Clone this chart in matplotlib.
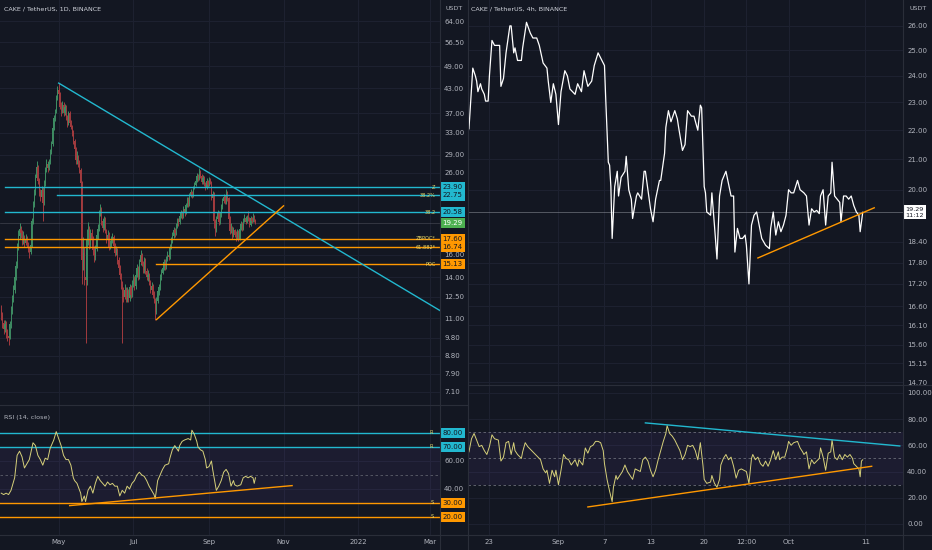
import matplotlib
matplotlib.use('Agg')
import matplotlib.pyplot as plt
from matplotlib.ticker import NullLocator
import numpy as np
import pandas as pd

plt.rcParams['font.family'] = ['DejaVu Sans']

BG = '#131722'
GRID = '#1d2130'
TXT = '#b2b5be'
CYAN = '#22b8cf'
ORANGE = '#ff9800'
RSI_COL = '#d6d07a'
GREEN = '#3e8c62'
RED = '#a23b3e'

# --- Left: CAKE/USDT daily candles (from 2021-03-15) ---
first_open = 11.6
closes = [11.2, 10.7, 10.3, 10.6, 10.1, 9.9, 9.8, 10.6, 11.5, 12.3,
          13.0, 14.0, 15.0, 16.8, 17.9, 18.6, 18.2, 17.4, 17.8, 17.2,
          17.6, 17.0, 16.6, 16.3, 17.0, 19.5, 21.5, 23.0, 25.2, 27.0,
          24.8, 23.2, 22.6, 23.5, 21.8, 24.5, 26.5, 27.5, 26.8, 27.8,
          29.5, 30.8, 34.0, 36.0, 37.5, 40.5, 42.5, 41.5, 38.5, 37.5,
          39.0, 37.0, 38.5, 36.0, 35.0, 37.0, 35.0, 34.2, 33.0, 31.5,
          30.0, 28.0, 28.5, 27.5, 26.5, 24.5, 15.5, 16.2, 14.0, 13.8,
          17.5, 18.8, 17.0, 18.2, 17.6, 16.5, 15.8, 16.6, 18.0, 18.7,
          20.4, 21.0, 19.5, 18.8, 19.8, 18.4, 17.6, 18.0, 16.8, 17.0,
          17.5, 17.8, 16.9, 16.2, 16.5, 15.5, 14.8, 14.2, 13.4, 12.8,
          12.5, 13.0, 12.3, 12.9, 12.4, 13.2, 12.6, 13.5, 13.9, 13.3,
          14.2, 14.8, 14.0, 15.3, 16.0, 15.2, 14.6, 15.5, 14.5, 14.0,
          14.2, 13.6, 13.0, 13.3, 12.6, 12.2, 11.4, 12.2, 12.9, 13.2,
          14.0, 14.4, 14.8, 15.3, 14.9, 15.6, 16.0, 15.8, 16.8, 17.4,
          17.9, 18.5, 18.2, 19.0, 19.6, 19.4, 20.2, 20.5, 20.1, 21.0,
          20.6, 21.5, 22.2, 21.6, 22.8, 23.2, 22.7, 23.8, 24.2, 24.8,
          25.5, 25.2, 26.2, 25.6, 24.6, 25.3, 24.4, 23.8, 24.8, 24.2,
          25.0, 24.6, 22.4, 23.0, 19.5, 18.4, 19.8, 20.5, 19.4, 20.2,
          21.2, 22.0, 22.6, 21.8, 23.0, 22.4, 19.8, 18.4, 18.8, 17.9,
          18.5, 18.0, 17.8, 18.3, 17.6, 18.7, 19.2, 18.6, 19.6, 19.9,
          19.4, 20.0, 19.8, 19.1, 19.9, 19.5, 20.2, 19.6, 19.29]
highs = [11.9, 11.4, 10.9, 10.9, 10.8, 10.3, 10.2, 10.8, 11.8, 12.6,
         13.4, 14.3, 15.4, 17.2, 18.5, 19.3, 19.0, 18.5, 18.4, 18.0,
         18.1, 17.9, 17.3, 16.9, 17.4, 19.9, 22.0, 23.6, 25.8, 27.9,
         27.3, 25.2, 23.6, 24.0, 23.9, 25.0, 26.9, 28.2, 27.9, 28.3,
         30.0, 31.5, 34.5, 36.6, 38.0, 41.2, 43.5, 44.3, 42.0, 39.5,
         39.8, 39.5, 39.2, 38.9, 36.6, 37.6, 37.5, 35.6, 34.6, 33.5,
         31.8, 30.4, 29.6, 29.0, 28.0, 26.8, 24.8, 17.8, 16.8, 14.9,
         18.6, 19.4, 19.0, 18.6, 18.6, 17.9, 16.9, 17.0, 18.4, 19.2,
         20.9, 21.6, 21.2, 19.9, 20.1, 20.0, 18.6, 18.5, 18.3, 17.5,
         17.9, 18.2, 18.0, 17.2, 16.9, 16.7, 15.8, 15.1, 14.4, 13.7,
         13.2, 13.5, 13.2, 13.2, 13.1, 13.5, 13.4, 13.8, 14.3, 14.1,
         14.5, 15.2, 15.0, 15.6, 16.5, 16.2, 15.4, 15.8, 15.7, 14.8,
         14.6, 14.4, 13.8, 13.6, 13.5, 12.9, 12.4, 12.5, 13.1, 13.5,
         14.3, 14.7, 15.1, 15.6, 15.6, 15.9, 16.4, 16.3, 17.1, 17.8,
         18.3, 18.9, 18.8, 19.3, 19.9, 19.9, 20.5, 20.9, 20.8, 21.4,
         21.2, 21.8, 22.6, 22.5, 23.1, 23.6, 23.4, 24.1, 24.6, 25.2,
         26.0, 25.8, 26.8, 26.5, 25.9, 25.7, 25.5, 24.6, 25.2, 25.0,
         25.4, 25.3, 24.8, 23.4, 23.2, 19.8, 20.2, 20.9, 20.7, 20.6,
         21.6, 22.4, 23.0, 22.8, 23.6, 23.3, 22.6, 20.1, 19.3, 19.0,
         18.9, 18.7, 18.4, 18.6, 18.5, 18.9, 19.5, 19.4, 19.9, 20.4,
         20.1, 20.3, 20.7, 20.0, 20.1, 20.0, 20.5, 20.3, 19.8]
lows = [10.9, 10.4, 10.0, 10.1, 9.8, 9.6, 9.4, 9.7, 10.4, 11.3,
        12.1, 12.8, 13.8, 14.8, 16.5, 17.6, 17.7, 17.0, 17.1, 16.8,
        17.0, 16.8, 16.3, 15.7, 16.1, 16.8, 19.2, 21.2, 22.8, 24.9,
        24.4, 22.7, 22.0, 22.3, 19.5, 21.5, 24.1, 26.1, 26.2, 26.5,
        27.4, 29.1, 30.5, 33.6, 35.4, 37.1, 40.0, 40.8, 37.9, 36.5,
        37.0, 36.5, 36.6, 35.6, 34.2, 34.6, 34.5, 33.7, 32.4, 30.9,
        29.4, 27.4, 27.4, 27.0, 26.0, 24.0, 13.5, 14.6, 13.4, 9.5,
        13.4, 17.0, 16.6, 16.7, 17.1, 16.0, 15.3, 15.5, 16.4, 17.6,
        18.4, 20.1, 19.1, 18.3, 18.5, 18.2, 17.2, 17.3, 16.5, 16.6,
        16.8, 17.2, 16.6, 15.9, 16.0, 15.2, 14.5, 13.9, 13.1, 9.5,
        12.1, 12.3, 12.1, 12.1, 12.1, 12.2, 12.4, 12.5, 13.2, 13.0,
        13.1, 14.0, 13.8, 13.9, 15.1, 15.0, 14.4, 14.4, 14.3, 13.8,
        13.7, 13.4, 12.8, 12.8, 12.4, 12.0, 10.9, 11.3, 12.0, 12.6,
        13.0, 13.8, 14.3, 14.6, 14.6, 14.7, 15.4, 15.5, 15.6, 16.6,
        17.2, 17.7, 17.8, 18.0, 18.8, 19.0, 19.2, 19.9, 19.8, 19.9,
        20.2, 20.4, 21.3, 21.3, 21.4, 22.6, 22.4, 22.5, 23.6, 24.0,
        24.6, 24.8, 25.0, 25.3, 24.3, 24.3, 24.1, 23.5, 23.6, 23.9,
        24.0, 24.3, 22.2, 22.1, 18.8, 17.9, 18.3, 19.6, 19.1, 19.2,
        20.0, 21.0, 21.8, 21.6, 21.6, 22.0, 19.5, 18.1, 18.2, 17.6,
        17.8, 17.8, 17.4, 17.6, 17.4, 17.5, 18.5, 18.4, 18.5, 19.4,
        19.2, 19.3, 19.6, 18.9, 19.0, 19.3, 19.4, 19.4, 19.2]

# daily RSI(14) read at these day offsets
rsi_d_day = [0, 2, 4, 6, 8, 11, 13, 15, 17, 19,
             21, 23, 26, 28, 30, 32, 34, 36, 38, 40,
             43, 45, 47, 49, 51, 53, 55, 57, 59, 60,
             62, 65, 66, 68, 69, 71, 73, 75, 77, 79,
             81, 83, 85, 87, 89, 91, 93, 95, 97, 99,
             101, 103, 105, 107, 109, 111, 113, 115, 117, 119,
             121, 123, 125, 126, 128, 130, 132, 134, 137, 138,
             140, 142, 145, 146, 148, 150, 153, 155, 156, 158,
             160, 161, 163, 165, 167, 168, 170, 172, 173, 175,
             176, 178, 180, 182, 184, 186, 188, 190, 191, 193,
             196, 198, 200, 202, 204, 206, 207, 208]
rsi_d = [37, 36, 37, 36, 39, 48, 64, 67, 63, 55,
         58, 61, 73, 71, 64, 61, 57, 62, 61, 69,
         75, 81, 76, 71, 64, 61, 61, 57, 48, 46,
         44, 37, 31, 35, 31, 39, 42, 37, 44, 49,
         46, 44, 42, 45, 43, 44, 42, 42, 35, 39,
         37, 42, 40, 44, 46, 50, 52, 50, 49, 46,
         42, 39, 36, 33, 46, 50, 54, 57, 58, 62,
         68, 71, 67, 71, 74, 75, 76, 75, 82, 79,
         74, 70, 68, 67, 61, 55, 56, 60, 54, 44,
         39, 42, 46, 52, 54, 51, 42, 46, 43, 42,
         43, 48, 49, 48, 49, 48, 44, 48]

# drawn levels on daily chart: (price, start date, label, colour)
levels = [(23.90, '2021-03-18', 'Z', CYAN),
          (22.75, '2021-04-30', '38.2%', CYAN),
          (20.58, '2021-03-18', '38.2', CYAN),
          (17.60, '2021-03-18', 'ZBPOC*', ORANGE),
          (16.74, '2021-03-18', '61.882*', ORANGE),
          (15.13, '2021-07-20', 'POC', ORANGE)]
down_line = [('2021-05-01', 44.3), ('2022-03-09', 11.5)]
up_line = [('2021-07-20', 10.9), ('2021-11-01', 21.4)]
rsi_d_line = [('2021-05-10', 28.1), ('2021-11-08', 42.4)]
last_price = 19.29

# --- Right: CAKE/USDT 4h close (bar index from 2021-08-20 08:00) ---
bars_4h = [0, 2, 3, 5, 6, 7, 9, 10, 12, 13,
           15, 16, 18, 20, 22, 24, 25, 27, 29, 32,
           33, 35, 36, 38, 41, 42, 44, 45, 48, 50,
           53, 55, 58, 61, 62, 64, 66, 68, 70, 72,
           75, 77, 79, 83, 85, 88, 90, 93, 96, 98,
           101, 103, 106, 107, 109, 110, 111, 112, 114, 116,
           117, 119, 122, 123, 125, 127, 128, 131, 132, 135,
           137, 138, 140, 142, 144, 146, 149, 150, 153, 154,
           156, 158, 161, 163, 164, 167, 169, 171, 174, 176,
           179, 181, 182, 184, 185, 186, 189, 190, 192, 194,
           196, 198, 201, 203, 205, 207, 208, 210, 212, 214,
           216, 217, 219, 221, 223, 225, 227, 229, 232, 235,
           236, 238, 240, 242, 244, 246, 248, 250, 252, 254,
           257, 259, 262, 264, 266, 268, 270, 272, 274, 275,
           277, 279, 281, 283, 284, 286, 288, 290, 291, 293,
           295, 297, 299, 301, 303, 305, 306, 308]
close_4h = [22.05, 23.5, 24.3, 24.0, 23.8, 23.4, 23.7, 23.5, 23.3, 23.05,
            23.05, 24.0, 25.4, 25.2, 25.2, 25.2, 23.6, 23.9, 24.9, 26.0,
            26.0, 24.9, 25.1, 24.6, 24.6, 25.1, 25.8, 26.15, 25.7, 25.5,
            25.5, 25.2, 24.5, 24.3, 23.8, 23.0, 23.7, 23.3, 22.2, 23.4,
            24.2, 24.0, 23.5, 23.3, 23.7, 23.4, 24.2, 23.6, 23.8, 24.4,
            24.9, 24.7, 24.4, 23.1, 20.9, 20.8, 20.1, 18.5, 20.1, 20.6,
            19.8, 20.4, 20.6, 21.1, 20.0, 19.7, 19.1, 19.8, 19.9, 19.7,
            20.6, 20.6, 20.0, 19.4, 19.0, 19.7, 20.3, 20.3, 21.2, 22.1,
            22.7, 22.3, 22.7, 22.4, 22.1, 21.3, 21.5, 22.7, 22.5, 22.5,
            22.0, 22.9, 22.8, 20.1, 19.9, 19.3, 19.2, 19.9, 18.9, 17.9,
            19.8, 20.3, 20.6, 20.2, 19.8, 19.8, 18.1, 18.8, 18.5, 18.5,
            18.6, 18.3, 17.2, 18.9, 19.2, 19.3, 18.9, 18.5, 18.3, 18.2,
            18.8, 19.3, 18.6, 19.0, 18.7, 18.9, 19.2, 20.0, 19.9, 19.9,
            20.3, 20.0, 19.9, 19.8, 18.9, 19.4, 19.3, 19.35, 19.25, 19.8,
            20.0, 18.9, 19.8, 19.9, 20.9, 19.8, 19.7, 19.6, 19.0, 19.8,
            19.8, 19.7, 19.8, 19.5, 19.3, 19.2, 18.7, 19.29]

rsi_4h_bar = [0, 2, 4, 6, 8, 10, 12, 14, 16, 18,
              20, 23, 25, 27, 29, 31, 33, 35, 36, 38,
              41, 42, 44, 46, 49, 51, 54, 56, 58, 60,
              61, 63, 65, 67, 68, 70, 72, 74, 76, 78,
              80, 83, 85, 86, 89, 91, 93, 95, 97, 99,
              101, 103, 105, 106, 108, 110, 112, 113, 115, 116,
              118, 120, 122, 124, 126, 128, 130, 132, 134, 136,
              138, 140, 142, 144, 146, 148, 150, 152, 154, 155,
              157, 159, 161, 163, 165, 167, 169, 171, 173, 175,
              177, 179, 181, 183, 184, 186, 189, 190, 192, 194,
              196, 197, 199, 201, 203, 205, 207, 209, 211, 213,
              215, 217, 219, 221, 222, 224, 226, 228, 230, 232,
              234, 236, 238, 240, 242, 243, 245, 247, 249, 250,
              252, 254, 257, 259, 261, 262, 264, 266, 268, 270,
              272, 274, 275, 277, 279, 281, 283, 284, 286, 288,
              290, 292, 294, 296, 298, 300, 301, 303, 305, 306,
              307, 308]
rsi_4h = [55, 65, 69, 64, 59, 60, 56, 53, 59, 68,
          65, 64, 48, 51, 62, 63, 53, 62, 56, 53,
          50, 55, 62, 59, 56, 54, 51, 49, 42, 39,
          41, 31, 41, 36, 41, 30, 41, 53, 50, 49,
          45, 49, 44, 49, 45, 58, 54, 59, 60, 63,
          63, 62, 56, 46, 34, 25, 17, 28, 37, 34,
          37, 40, 45, 40, 37, 34, 42, 41, 40, 49,
          51, 48, 41, 36, 41, 49, 56, 63, 69, 75,
          69, 67, 64, 60, 56, 49, 53, 60, 59, 60,
          56, 49, 62, 45, 34, 31, 32, 37, 31, 28,
          34, 45, 50, 53, 49, 51, 44, 35, 41, 42,
          41, 40, 31, 50, 53, 49, 51, 46, 44, 48,
          44, 49, 56, 49, 55, 49, 51, 51, 58, 63,
          60, 62, 63, 58, 55, 53, 55, 42, 49, 46,
          48, 50, 58, 51, 41, 54, 55, 64, 51, 49,
          53, 49, 53, 51, 53, 50, 46, 44, 42, 36,
          48, 49]
up_line_4h = [(226, 17.93), (317, 19.43)]
rsi_up_4h = [(93, 13.0), (315, 44.0)]
rsi_down_4h = [(138, 77.1), (337, 59.5)]

# ---------------- figure ----------------
W, H = 932, 550
fig = plt.figure(figsize=(W / 100, H / 100), dpi=100, facecolor=BG)


def box(x0, y0, x1, y1):
    return [x0 / W, 1 - y1 / H, (x1 - x0) / W, (y1 - y0) / H]


axL = fig.add_axes(box(0, 0, 440, 405))
axLr = fig.add_axes(box(0, 405, 440, 535), sharex=axL)
axR = fig.add_axes(box(468, 0, 903, 385))
axRr = fig.add_axes(box(468, 385, 903, 535), sharex=axR)

for ax in (axL, axLr, axR, axRr):
    ax.set_facecolor(BG)
    for s in ax.spines.values():
        s.set_visible(False)
    ax.yaxis.tick_right()
    ax.tick_params(axis='both', length=0, colors=TXT, labelsize=5, pad=3)
    ax.grid(True, color=GRID, lw=0.8)
    ax.set_axisbelow(True)


def tag(ax, y, txt, fc, tc=BG, x=1.006):
    ax.text(x, y, txt, transform=ax.get_yaxis_transform(), ha='left', va='center',
            fontsize=5, color=tc, zorder=20, clip_on=False,
            bbox=dict(boxstyle='square,pad=0.3', fc=fc, ec='none'))


# ----- left daily candles -----
d_dates = pd.date_range('2021-03-15', periods=len(closes), freq='D')
opens = [first_open] + closes[:-1]
o = np.array(opens)
c = np.array(closes)
up = c >= o
cols = np.where(up, GREEN, RED)
axL.vlines(d_dates, lows, highs, colors=cols, lw=0.7, zorder=3)
axL.bar(d_dates, np.abs(c - o), bottom=np.minimum(o, c), width=0.75,
        color=cols, zorder=3)
axL.set_yscale('log')
axL.yaxis.set_minor_locator(NullLocator())
axL.set_ylim(6.57, 72.5)
lt = [64, 56.5, 49, 43, 37, 33, 29, 26, 16, 14, 12.5, 11, 9.8, 8.8, 7.9, 7.1]
axL.set_yticks(lt)
axL.set_yticklabels([f'{v:.2f}' for v in lt])
axL.set_xlim(pd.Timestamp('2021-03-14'), pd.Timestamp('2022-03-09'))

axL.axhline(last_price, color='#5d606b', lw=0.5, alpha=0.6, zorder=2)
for price, start, lab, col in levels:
    axL.plot([pd.Timestamp(start), pd.Timestamp('2022-03-09')], [price, price],
             color=col, lw=1.0, zorder=4)
    axL.text(0.99, price, lab, transform=axL.get_yaxis_transform(), ha='right',
             va='center', fontsize=3.6, color='#e6d86a', zorder=6)
    tag(axL, price, f'{price:.2f}', col)
tag(axL, last_price, f'{last_price:.2f}', '#4caf50', tc='#ffffff')
axL.plot([pd.Timestamp(p[0]) for p in down_line], [p[1] for p in down_line],
         color=CYAN, lw=1.0, zorder=5)
axL.plot([pd.Timestamp(p[0]) for p in up_line], [p[1] for p in up_line],
         color=ORANGE, lw=1.0, zorder=5)
axL.text(4 / 440, 1 - 9 / 405, 'CAKE / TetherUS, 1D, BINANCE', transform=axL.transAxes,
         fontsize=4.6, color='#d1d4dc', va='center')
axL.text(1.012, 1 - 9 / 405, 'USDT', transform=axL.transAxes, fontsize=4.6,
         color=TXT, va='center', clip_on=False)
plt.setp(axL.get_xticklabels(), visible=False)

# ----- left RSI -----
rsi_dates = pd.Timestamp('2021-03-15') + pd.to_timedelta(rsi_d_day, unit='D')
axLr.axhspan(30, 70, color='#7e57c2', alpha=0.09, lw=0)
for lv in (70, 50, 30):
    axLr.axhline(lv, color='#5d606b', lw=0.6, ls=(0, (3, 3)))
for lv, col, lab in ((80, CYAN, 'R'), (70, CYAN, 'R'), (30, ORANGE, 'S'), (20, ORANGE, 'S')):
    axLr.axhline(lv, color=col, lw=1.0, zorder=4)
    axLr.text(0.985, lv, lab, transform=axLr.get_yaxis_transform(), ha='right',
              va='center', fontsize=3.6, color='#e6d86a', zorder=6)
    tag(axLr, lv, f'{lv:.2f}', col)
axLr.plot(rsi_dates, rsi_d, color=RSI_COL, lw=0.7, zorder=5)
axLr.plot([pd.Timestamp(p[0]) for p in rsi_d_line], [p[1] for p in rsi_d_line],
          color=ORANGE, lw=1.0, zorder=6)
axLr.set_ylim(7.1, 100)
axLr.set_yticks([40, 60])
axLr.set_yticklabels(['40.00', '60.00'])
axLr.text(4 / 440, 1 - 12 / 130, 'RSI (14, close)', transform=axLr.transAxes,
          fontsize=4.6, color=TXT, va='center')
lx = [pd.Timestamp(s) for s in ('2021-05-01', '2021-07-01', '2021-09-01',
                                '2021-11-01', '2022-01-01', '2022-03-01')]
axLr.set_xticks(lx)
axLr.set_xticklabels(['May', 'Jul', 'Sep', 'Nov', '2022', 'Mar'])

# ----- right 4h line -----
t0 = pd.Timestamp('2021-08-20 08:00')
r_dates = t0 + pd.to_timedelta(np.array(bars_4h) * 4, unit='h')
axR.plot(r_dates, close_4h, color='#ffffff', lw=0.9, zorder=4)
axR.set_yscale('log')
axR.yaxis.set_minor_locator(NullLocator())
axR.set_ylim(14.63, 27.1)
rt = [26, 25, 24, 23, 22, 21, 20, 18.4, 17.8, 17.2, 16.6, 16.1, 15.6, 15.15, 14.7]
axR.set_yticks(rt)
axR.set_yticklabels([f'{v:.2f}' for v in rt])
axR.set_xlim(t0 - pd.Timedelta(hours=3), t0 + pd.Timedelta(hours=4 * 339.5))
axR.axhline(last_price, color='#9598a1', lw=0.5, alpha=0.7, zorder=2)
axR.plot([t0 + pd.Timedelta(hours=4 * b) for b, _ in up_line_4h],
         [v for _, v in up_line_4h], color=ORANGE, lw=1.0, zorder=5)
axR.text(1.006, last_price, f'{last_price:.2f}\n11:12', transform=axR.get_yaxis_transform(),
         ha='left', va='center', fontsize=4.6, color=BG, zorder=20, clip_on=False,
         linespacing=1.1, bbox=dict(boxstyle='square,pad=0.3', fc='#ffffff', ec='none'))
axR.text(3 / 435, 1 - 9 / 385, 'CAKE / TetherUS, 4h, BINANCE', transform=axR.transAxes,
         fontsize=4.6, color='#d1d4dc', va='center')
axR.text(1.016, 1 - 9 / 385, 'USDT', transform=axR.transAxes, fontsize=4.6,
         color=TXT, va='center', clip_on=False)
plt.setp(axR.get_xticklabels(), visible=False)

# ----- right RSI -----
rr_dates = t0 + pd.to_timedelta(np.array(rsi_4h_bar) * 4, unit='h')
axRr.axhspan(30, 70, color='#7e57c2', alpha=0.09, lw=0)
for lv in (70, 50, 30):
    axRr.axhline(lv, color='#6a6d78', lw=0.6, ls=(0, (3, 3)))
axRr.plot(rr_dates, rsi_4h, color=RSI_COL, lw=0.7, zorder=5)
axRr.plot([t0 + pd.Timedelta(hours=4 * b) for b, _ in rsi_up_4h],
          [v for _, v in rsi_up_4h], color=ORANGE, lw=1.0, zorder=6)
axRr.plot([t0 + pd.Timedelta(hours=4 * b) for b, _ in rsi_down_4h],
          [v for _, v in rsi_down_4h], color=CYAN, lw=1.0, zorder=6)
axRr.set_ylim(-8.4, 106)
rrt = [0, 20, 40, 60, 80, 100]
axRr.set_yticks(rrt)
axRr.set_yticklabels([f'{v:.2f}' for v in rrt])
rx = [pd.Timestamp(s) for s in ('2021-08-23', '2021-09-01', '2021-09-07', '2021-09-13',
                                '2021-09-20', '2021-09-25 12:00', '2021-10-01', '2021-10-11')]
axRr.set_xticks(rx)
axRr.set_xticklabels(['23', 'Sep', '7', '13', '20', '12:00', 'Oct', '11'])

# pane borders
for x in (440, 468, 903):
    fig.add_artist(plt.Line2D([x / W, x / W], [0, 1], color='#2a2e39', lw=0.8))
for (x0, x1, y) in ((0, 468, 405), (0, 468, 535), (468, 932, 385), (468, 932, 535)):
    fig.add_artist(plt.Line2D([x0 / W, x1 / W], [1 - y / H, 1 - y / H], color='#2a2e39', lw=0.8))

fig.savefig('out.png', dpi=100, facecolor=BG)
